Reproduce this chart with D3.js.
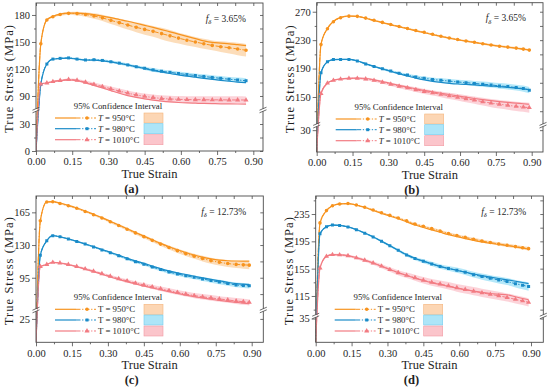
<!DOCTYPE html>
<html>
<head>
<meta charset="utf-8">
<script src="https://cdn.jsdelivr.net/npm/d3@7"></script>
<style>
  body { margin: 0; background: #fff; }
  svg, svg text { font-family: "Liberation Serif", "Times New Roman", "DejaVu Serif", serif; }
</style>
</head>
<body>
<svg id="chart" width="550" height="391" font-family="Liberation Serif, Times New Roman, serif"></svg>
<script>
// Flow curves at three temperatures, two delta-ferrite fractions, four panels.
// Solid = experiment, dash-dot + markers = prediction, band = 95% CI.

//// DATA ///////////////////////////////////////////////////////////////////////
var strainShort = [0, 0.02, 0.045, 0.07, 0.1, 0.135, 0.17, 0.205, 0.24, 0.275, 0.31, 0.345, 0.38,
    0.415, 0.45, 0.485, 0.52, 0.555, 0.59, 0.625, 0.66, 0.695, 0.73, 0.765, 0.8, 0.835, 0.87];
var strainLong = [0, 0.018, 0.045, 0.07, 0.1, 0.135, 0.17, 0.205, 0.24, 0.275, 0.31, 0.345, 0.38,
    0.415, 0.45, 0.485, 0.52, 0.555, 0.59, 0.625, 0.66, 0.695, 0.73, 0.765, 0.8, 0.835, 0.865, 0.89];

var temperatures = ["950", "980", "1010"];
var xTicks = [0, 0.15, 0.30, 0.45, 0.60, 0.75, 0.90];
var xMinor = [0.075, 0.225, 0.375, 0.525, 0.675, 0.825];

// (a) f = 3.65%
var a950Pred = [0, 148, 174.5, 178, 180.5, 181.8, 181.5, 180.5, 178.8, 176.8, 174, 171.5, 168.8, 166.3, 164, 161.8, 159.3, 156.8, 154.3, 152, 150, 148, 146.2, 144.8, 143.6, 142.2, 140.8];
var a950Exp = [0, 148, 174.5, 178.5, 181, 182, 182, 181.5, 180.3, 178.8, 177, 175, 173, 170.8, 168.5, 166.2, 163.8, 161.3, 158.8, 156.3, 153.8, 151.3, 149.5, 148.7, 148, 147, 146];
var a950Band = [0, 0.5, 1, 1, 1.5, 1.5, 2, 2.5, 3, 3.5, 4, 4.5, 5, 5.5, 6, 6, 6.5, 6.5, 6, 6, 5.5, 5.5, 5.5, 6, 6.5, 7, 7];
var a980Pred = [0, 103, 125.5, 131, 131.8, 132.3, 131, 130, 130.3, 129.5, 128, 126.5, 124.5, 122.5, 120.8, 119, 117.5, 116.3, 115, 113.8, 112.8, 111.7, 110.6, 109.6, 108.6, 107.8, 107];
var a980Exp = [0, 103, 125.5, 131, 131.5, 132, 131, 130, 129.8, 129, 127.8, 126.2, 124.5, 122.5, 120.5, 118.5, 116.7, 115, 113.5, 112, 110.8, 109.6, 108.5, 107.4, 106.4, 105.5, 104.8];
var a980Band = [0, 0.5, 0.5, 0.8, 0.8, 1, 1, 1, 1, 1.2, 1.3, 1.5, 1.5, 1.6, 1.8, 2, 2, 2, 2.2, 2.2, 2.3, 2.4, 2.5, 2.5, 2.6, 2.7, 2.8];
var a1010Pred = [0, 103.3, 104.5, 106, 107.3, 108.3, 107.5, 105.3, 103, 100.5, 98, 95.5, 93.2, 91.2, 89.6, 88.3, 87.3, 86.7, 86.3, 86, 85.9, 85.8, 85.7, 85.7, 85.6, 85.6, 85.5];
var a1010Exp = [0, 103.3, 104.5, 106, 107, 108, 107, 104.5, 101.8, 99, 96, 93, 90.5, 88.5, 86.8, 85.5, 84.4, 83.5, 82.8, 82.3, 82, 81.7, 81.5, 81.3, 81.2, 81.1, 81];
var a1010Band = [0, 0.5, 0.8, 1, 1, 1.2, 1.5, 1.8, 2, 2.2, 2.5, 2.8, 3, 3, 3.2, 3.3, 3.5, 3.6, 3.7, 3.8, 3.9, 4, 4, 4, 4, 4, 4];

// (b) f = 3.65%
var b950Pred = [0, 224, 246, 256, 261.5, 263.8, 263.5, 261, 258, 255, 252, 249.3, 246.5, 243.5, 241, 238.2, 235.5, 233, 230.8, 228.8, 227, 225, 223.2, 221.5, 220.2, 218.8, 217.4, 216];
var b950Exp = [0, 224, 246.5, 256.5, 262, 264, 263.5, 260.8, 257.5, 254.5, 251.5, 248.8, 246, 243, 240.5, 237.8, 235.2, 232.8, 230.6, 228.6, 226.8, 224.9, 223.1, 221.5, 220, 218.6, 217.3, 216.2];
var b950Band = [0, 0.5, 0.5, 0.8, 0.8, 0.8, 0.8, 1, 1, 1, 1, 1, 1.2, 1.2, 1.2, 1.2, 1.3, 1.3, 1.3, 1.4, 1.4, 1.4, 1.5, 1.5, 1.5, 1.5, 1.6, 1.6];
var b980Pred = [0, 184, 199.5, 202.6, 202.8, 202.8, 200.6, 196.3, 193, 189.6, 186.5, 183.4, 180.8, 178.3, 176.4, 174.7, 173.5, 172.4, 171.2, 170.2, 169.1, 168, 167, 165.6, 164.6, 163.2, 161.8, 159.6];
var b980Exp = [0, 184, 199.5, 202.6, 203, 203, 201, 197, 193, 189.5, 186, 182.5, 179.5, 176.5, 174, 172, 170.5, 169.3, 168.3, 167.6, 167, 166.2, 165.4, 164.6, 163.6, 162.5, 161.4, 160.4];
var b980Band = [0, 0.5, 0.8, 1, 1, 1, 1, 1.2, 1.3, 1.5, 1.6, 1.8, 2, 2.2, 2.4, 2.6, 2.8, 3, 3.2, 3.4, 3.5, 3.7, 3.8, 4, 4, 4.2, 4.3, 4.5];
var b1010Pred = [0, 155, 169.5, 173.4, 175.2, 176.2, 176.3, 175.3, 173.5, 170.8, 168, 165.2, 162.8, 160.3, 157.8, 155.8, 153.8, 151.6, 149.7, 147.6, 145.6, 143.4, 141.4, 139.8, 138.4, 136.8, 135.8, 135];
var b1010Exp = [0, 155, 169.5, 173.4, 175.3, 176.3, 176.5, 176, 174.2, 171.8, 169, 166.3, 163.8, 161.5, 159.2, 157.2, 155.3, 153.5, 151.5, 149.7, 147.9, 146.3, 144.8, 143.5, 142.4, 141.4, 140.5, 139.8];
var b1010Band = [0, 0.5, 1, 1, 1, 1.2, 1.5, 2, 2, 2.3, 2.5, 2.8, 3, 3.3, 3.5, 3.8, 4, 4.3, 4.6, 5, 5.2, 5.5, 5.8, 6, 6.2, 6.5, 6.7, 7];

// (c) f = 12.73%
var c950Pred = [0, 156, 176, 176.3, 174.5, 172, 169.3, 166, 162.5, 159, 155, 151, 147, 143, 139, 135, 131, 127.3, 124, 120.8, 118, 115.5, 113.3, 111.5, 110.2, 109.3, 108.8, 108.5];
var c950Exp = [0, 156, 176.3, 176.5, 175, 172.5, 169.7, 166.5, 163, 159.4, 155.5, 151.5, 147.5, 143.5, 139.6, 135.7, 131.8, 128.2, 125, 122, 119.3, 117, 115.2, 113.9, 113.2, 112.9, 112.8, 112.7];
var c950Band = [0, 0.5, 0.6, 0.7, 0.8, 0.9, 1, 1, 1.1, 1.2, 1.3, 1.4, 1.5, 1.6, 1.7, 1.8, 2, 2.2, 2.4, 2.6, 2.8, 3, 3.2, 3.5, 3.8, 4, 4.2, 4.3];
var c980Pred = [0, 119, 134.5, 140, 138.8, 136.5, 133.8, 131, 128, 124.8, 121.8, 118.5, 115.2, 112.2, 109.5, 106.5, 103.7, 101.1, 99, 97.2, 95.4, 93.7, 92, 90.4, 88.8, 87.3, 86.7, 86.3];
var c980Exp = [0, 119, 134.5, 140, 138.8, 136.6, 134, 131.2, 128.3, 125.2, 122.3, 119.2, 116, 113, 110.4, 107.5, 104.8, 102.3, 100.2, 98.4, 96.6, 94.9, 93.2, 91.6, 90.1, 88.8, 88.1, 87.6];
var c980Band = [0, 0.5, 0.6, 0.7, 0.7, 0.8, 0.8, 0.9, 1, 1, 1.1, 1.2, 1.3, 1.4, 1.5, 1.6, 1.7, 1.8, 1.9, 2, 2.1, 2.2, 2.3, 2.4, 2.5, 2.6, 2.7, 2.8];
var c1010Pred = [0, 107, 109.2, 111.5, 110.8, 109.2, 107, 104.5, 102, 99.3, 96.6, 94, 91.6, 89.3, 87.3, 85.2, 83.2, 81.2, 79.3, 77.5, 75.9, 74.6, 73.4, 72.3, 71.2, 70.1, 69.3, 68.6];
var c1010Exp = [0, 107, 109.2, 111.5, 110.8, 109, 106.8, 104.2, 101.5, 98.7, 95.9, 93.2, 90.7, 88.3, 86.2, 84.1, 82.1, 80.1, 78.2, 76.4, 74.8, 73.4, 72, 70.8, 69.7, 68.7, 67.9, 67.3];
var c1010Band = [0, 0.5, 0.6, 0.7, 0.8, 0.9, 1, 1.1, 1.2, 1.3, 1.5, 1.6, 1.8, 1.9, 2, 2.2, 2.3, 2.5, 2.6, 2.7, 2.8, 2.9, 3, 3, 3.1, 3.1, 3.2, 3.2];

// (d) f = 12.73%
var d950Pred = [0, 222, 240, 247, 249.8, 250.3, 248.2, 245, 241, 236.8, 233, 229.3, 225, 220.5, 217, 213.6, 210.2, 206.4, 203.5, 200.8, 198, 195.5, 193.3, 191.2, 189.2, 187.3, 185.7, 184.3];
var d950Exp = [0, 222, 240, 247, 249.8, 250.3, 248, 244.5, 240.3, 236, 232, 228, 223.6, 219, 215.3, 211.8, 208.3, 204.8, 201.8, 199, 196.5, 194.2, 192.2, 190.4, 188.7, 187, 185.2, 183.6];
var d950Band = [0, 0.4, 0.5, 0.6, 0.7, 0.8, 0.8, 0.9, 1, 1, 1.1, 1.2, 1.3, 1.4, 1.5, 1.6, 1.7, 1.8, 1.9, 2, 2.1, 2.2, 2.3, 2.4, 2.5, 2.5, 2.6, 2.6];
var d980Pred = [0, 206, 216.5, 218.8, 218.3, 216, 212, 207, 201.5, 195, 188.5, 181.8, 175, 169.7, 165.8, 162, 158, 155.4, 152.8, 149.8, 146.2, 143.4, 140.8, 138.4, 136.1, 133, 130.7, 128.8];
var d980Exp = [0, 206, 216.5, 218.8, 218.5, 216.3, 212.3, 207.3, 201.7, 195.3, 188.7, 182, 175.5, 170.2, 166, 162, 158.3, 155.2, 152.5, 149.8, 147.2, 144.8, 142.6, 140.6, 138.7, 136.6, 134.7, 133.2];
var d980Band = [0, 0.5, 0.6, 0.7, 0.8, 0.9, 1, 1.2, 1.4, 1.6, 1.8, 2, 2.2, 2.5, 2.8, 3, 3.3, 3.5, 3.8, 4, 4.2, 4.5, 4.7, 5, 5.2, 5.5, 5.8, 6];
var d1010Pred = [0, 156, 173, 175.5, 175.2, 174, 170.8, 167.3, 163.3, 158.7, 153.6, 149, 145.2, 141.7, 138, 135, 132.5, 129.8, 127, 124.5, 122, 119.6, 117.4, 115.2, 112.8, 110, 107.8, 105.6];
var d1010Exp = [0, 156, 173, 175.5, 175.3, 174.2, 171.2, 167.5, 163.2, 158.5, 153.7, 149.2, 145, 141.2, 137.7, 134.5, 131.7, 129, 126.5, 124.2, 122.2, 120.3, 118.6, 117.6, 116.8, 113.8, 111.3, 109.5];
var d1010Band = [0, 0.6, 1, 1.2, 1.5, 1.8, 2, 2.3, 2.6, 3, 3.3, 3.6, 4, 4.3, 4.6, 5, 5.2, 5.5, 5.7, 6, 6, 6, 6, 6, 6, 6, 6, 6];


//// STYLE //////////////////////////////////////////////////////////////////////
var fontFamily = "'Liberation Serif', 'Times New Roman', serif";
var lineColors = ["#f7931e", "#1a8bc8", "#f27b82"];
var bandColors = ["rgba(247,150,40,0.32)", "rgba(60,195,240,0.38)", "rgba(245,110,130,0.30)"];
var patchColors = ["#fcd6b4", "#ade5f8", "#fbc5cb"];
var patchStrokes = ["#f5b57c", "#72ccee", "#f29aa3"];
var markerTypes = [d3.symbolCircle, d3.symbolSquare, d3.symbolTriangle];
var markerSizes = [10, 9, 11];
var dashPattern = "4.5,1.6,1.3,1.6";
var frameColor = "#4a4a4a";
var textColor = "#1e1e1e";


//// PANELS /////////////////////////////////////////////////////////////////////
var panels = [
    { caption: "a", fraction: "3.65%", italicT: true, strain: strainShort,
      pred: [a950Pred, a980Pred, a1010Pred], exp: [a950Exp, a980Exp, a1010Exp], band: [a950Band, a980Band, a1010Band],
      left: 36, right: 263, x90: 253.3, top: 3, bottom: 151,
      yDomain: [0, 45, 75, 193.3], yRange: [151, 110.5, 109.5, 3], breakY: 110,
      yTicks: [0, 30, 90, 120, 150, 180], yMinor: [15, 105, 135, 165] },
    { caption: "b", fraction: "3.65%", italicT: true, strain: strainLong,
      pred: [b950Pred, b980Pred, b1010Pred], exp: [b950Exp, b980Exp, b1010Exp], band: [b950Band, b980Band, b1010Band],
      left: 316.7, right: 543, x90: 531.7, top: 2.7, bottom: 152,
      yDomain: [0, 35, 112, 282.7], yRange: [152, 126.5, 124, 2.7], breakY: 125.2,
      yTicks: [30, 150, 190, 230, 270], yMinor: [130, 170, 210, 250] },
    { caption: "c", fraction: "12.73%", italicT: false, strain: strainLong,
      pred: [c950Pred, c980Pred, c1010Pred], exp: [c950Exp, c980Exp, c1010Exp], band: [c950Band, c980Band, c1010Band],
      left: 36, right: 263.3, x90: 251.7, top: 196, bottom: 342.3,
      yDomain: [0, 34, 61, 182.5], yRange: [342.3, 310.5, 309.5, 196], breakY: 310,
      yTicks: [25, 95, 130, 165], yMinor: [77.5, 112.5, 147.5] },
    { caption: "d", fraction: "12.73%", italicT: false, strain: strainLong,
      pred: [d950Pred, d980Pred, d1010Pred], exp: [d950Exp, d980Exp, d1010Exp], band: [d950Band, d980Band, d1010Band],
      left: 315.7, right: 543.3, x90: 531, top: 196, bottom: 342.3,
      yDomain: [0, 38, 86.4, 261.4], yRange: [342.3, 316.5, 315.5, 196], breakY: 316,
      yTicks: [35, 115, 155, 195, 235], yMinor: [95, 135, 175, 215, 255] }
];

var svg = d3.select("#chart");
var defs = svg.append("defs");

function style_axis(sel) {
    sel.select(".domain").remove();
    sel.attr("font-family", fontFamily).attr("font-size", null);
    sel.selectAll("line").attr("stroke", frameColor).attr("stroke-width", 0.8);
    sel.selectAll("text").attr("fill", textColor)
        .style("font-family", fontFamily).style("font-size", "10.5px");
}

function add_text(parent, size) {
    return parent.append("text")
        .style("font-family", fontFamily).style("font-size", size + "px")
        .attr("fill", textColor);
}

function draw_panel(p) {
    var g = svg.append("g");
    var x = d3.scaleLinear().domain([0, 0.9]).range([p.left, p.x90]);
    var y = d3.scaleLinear().domain(p.yDomain).range(p.yRange);

    var clipId = "clip-" + p.caption;
    defs.append("clipPath").attr("id", clipId).append("rect")
        .attr("x", p.left).attr("y", p.top)
        .attr("width", p.right - p.left).attr("height", p.bottom - p.top);

    var plot = g.append("g").attr("clip-path", "url(#" + clipId + ")");

    // rows per series, so the generators can read everything off one datum
    var series = p.pred.map(function(pred, i) {
        return p.strain.map(function(s, k) {
            return { s: s, pred: pred[k], exp: p.exp[i][k], hw: p.band[i][k] };
        });
    });

    var area = d3.area()
        .x(function(d) { return x(d.s); })
        .y0(function(d) { return y(d.pred - d.hw); })
        .y1(function(d) { return y(d.pred + d.hw); })
        .curve(d3.curveMonotoneX);
    var expLine = d3.line()
        .x(function(d) { return x(d.s); })
        .y(function(d) { return y(d.exp); })
        .curve(d3.curveMonotoneX);
    var predLine = d3.line()
        .x(function(d) { return x(d.s); })
        .y(function(d) { return y(d.pred); })
        .curve(d3.curveMonotoneX);

    series.forEach(function(rows, i) {
        plot.append("path").datum(rows).attr("d", area).attr("fill", bandColors[i]);
    });
    series.forEach(function(rows, i) {
        plot.append("path").datum(rows).attr("d", expLine)
            .attr("fill", "none").attr("stroke", lineColors[i]).attr("stroke-width", 1.2);
    });
    series.forEach(function(rows, i) {
        plot.append("path").datum(rows).attr("d", predLine)
            .attr("fill", "none").attr("stroke", lineColors[i]).attr("stroke-width", 1)
            .attr("stroke-dasharray", dashPattern);
        plot.selectAll(null).data(rows.slice(1)).enter().append("path")
            .attr("transform", function(d) { return "translate(" + x(d.s) + "," + y(d.pred) + ")"; })
            .attr("d", d3.symbol().type(markerTypes[i]).size(markerSizes[i]))
            .attr("fill", lineColors[i]);
    });

    // frame
    g.append("rect")
        .attr("x", p.left).attr("y", p.top)
        .attr("width", p.right - p.left).attr("height", p.bottom - p.top)
        .attr("fill", "none").attr("stroke", frameColor).attr("stroke-width", 0.9);

    // axes: outward on left/bottom, mirrored inward on top/right
    g.append("g").attr("transform", "translate(0," + p.bottom + ")")
        .call(d3.axisBottom(x).tickValues(xTicks).tickSize(4).tickPadding(3).tickFormat(d3.format(".2f")))
        .call(style_axis);
    g.append("g").attr("transform", "translate(0," + p.bottom + ")")
        .call(d3.axisBottom(x).tickValues(xMinor).tickSize(2).tickFormat(""))
        .call(style_axis);
    g.append("g").attr("transform", "translate(0," + p.top + ")")
        .call(d3.axisTop(x).tickValues(xTicks.concat(xMinor)).tickSize(-3).tickFormat(""))
        .call(style_axis);
    g.append("g").attr("transform", "translate(" + p.left + ",0)")
        .call(d3.axisLeft(y).tickValues(p.yTicks).tickSize(4).tickPadding(2).tickFormat(d3.format("d")))
        .call(style_axis);
    g.append("g").attr("transform", "translate(" + p.left + ",0)")
        .call(d3.axisLeft(y).tickValues(p.yMinor).tickSize(2).tickFormat(""))
        .call(style_axis);
    g.append("g").attr("transform", "translate(" + p.right + ",0)")
        .call(d3.axisRight(y).tickValues(p.yTicks.concat(p.yMinor)).tickSize(-3).tickFormat(""))
        .call(style_axis);

    // axis break marks on both vertical axes
    [p.left, p.right].forEach(function(ax) {
        g.append("rect").attr("x", ax - 1.5).attr("y", p.breakY - 1.2)
            .attr("width", 3).attr("height", 2.4).attr("fill", "#fff");
        [-1.3, 1.3].forEach(function(off) {
            g.append("line")
                .attr("x1", ax - 3.5).attr("y1", p.breakY + off + 1.5)
                .attr("x2", ax + 3.5).attr("y2", p.breakY + off - 1.5)
                .attr("stroke", frameColor).attr("stroke-width", 0.8);
        });
    });

    // axis titles and caption
    var midX = (p.left + p.right) / 2;
    add_text(g, 12.5).attr("x", midX).attr("y", p.bottom + 27)
        .attr("text-anchor", "middle").text("True Strain");
    add_text(g, 12.5)
        .attr("transform", "translate(" + (p.left - 23) + "," + ((p.top + p.bottom) / 2 + 2) + ") rotate(-90)")
        .attr("text-anchor", "middle")
        .attr("textLength", 108).attr("lengthAdjust", "spacing")
        .text("True Stress (MPa)");
    add_text(g, 12.5).attr("x", midX - 18).attr("y", p.bottom + 42)
        .attr("text-anchor", "middle").style("font-weight", "bold")
        .text("(" + p.caption + ")");

    // delta ferrite fraction label
    var fl = add_text(g, 9.5).attr("x", p.right - 17).attr("y", p.top + 18.5)
        .attr("text-anchor", "end");
    fl.append("tspan").style("font-style", "italic").text("f");
    fl.append("tspan").attr("dy", 2.5).style("font-size", "6.5px").style("font-style", "italic").text("δ");
    fl.append("tspan").attr("dy", -2.5).text(" = " + p.fraction);

    // legend
    var leg = g.append("g").attr("transform", "translate(" + p.left + "," + p.bottom + ")");
    add_text(leg, 8.8).attr("x", 82).attr("y", -42)
        .attr("text-anchor", "middle").text("95% Confidence Interval");
    var rowY = [-33, -22.3, -11.3];
    temperatures.forEach(function(t, i) {
        var ry = rowY[i];
        leg.append("line").attr("x1", 19).attr("x2", 40).attr("y1", ry).attr("y2", ry)
            .attr("stroke", lineColors[i]).attr("stroke-width", 1.2);
        leg.append("line").attr("x1", 40).attr("x2", 60).attr("y1", ry).attr("y2", ry)
            .attr("stroke", lineColors[i]).attr("stroke-width", 1).attr("stroke-dasharray", dashPattern);
        leg.append("path").attr("transform", "translate(51," + ry + ")")
            .attr("d", d3.symbol().type(markerTypes[i]).size(markerSizes[i]))
            .attr("fill", lineColors[i]);
        var lt = add_text(leg, 8.8).attr("x", 62).attr("y", ry).attr("dy", "0.33em");
        lt.append("tspan").style("font-style", p.italicT ? "italic" : "normal").text("T");
        lt.append("tspan").text(" = " + t + "°C");
        leg.append("rect").attr("x", 108).attr("y", ry - 5).attr("width", 19).attr("height", 10)
            .attr("fill", patchColors[i]).attr("stroke", patchStrokes[i]).attr("stroke-width", 0.6);
    });
}

panels.forEach(draw_panel);
</script>
</body>
</html>
